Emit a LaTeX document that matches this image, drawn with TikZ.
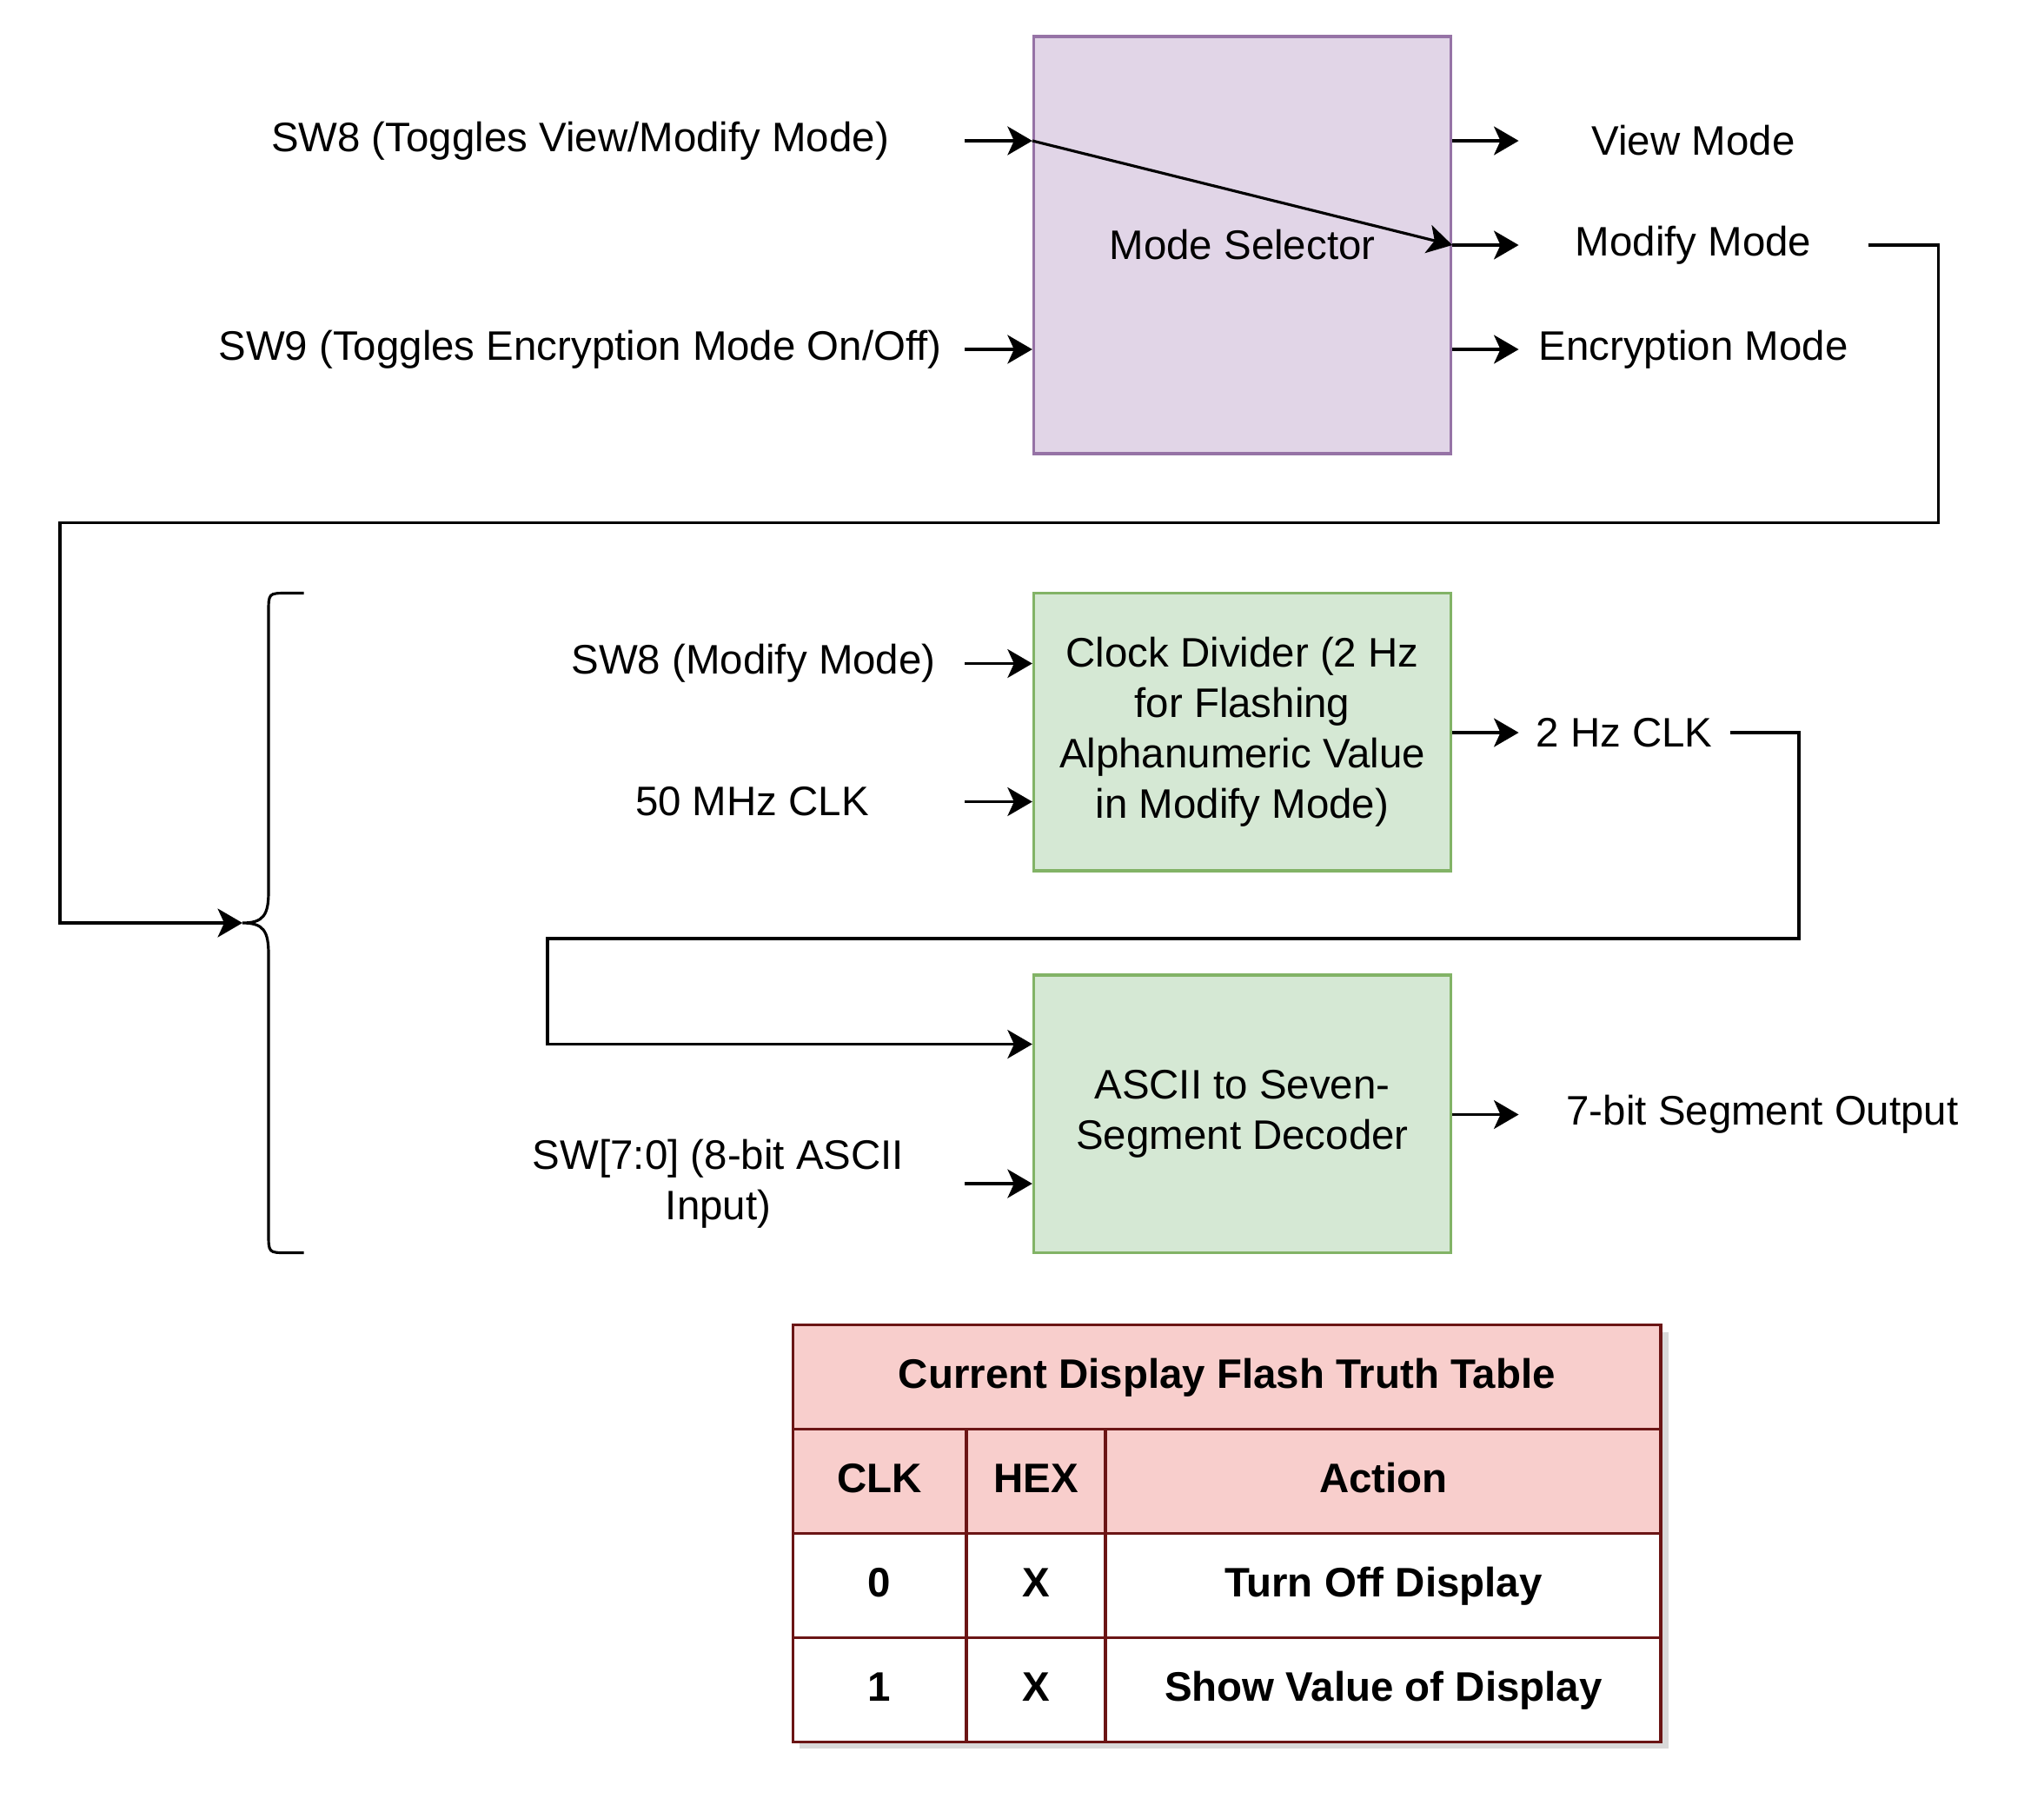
\documentclass[tikz,border=0pt]{standalone}
\usepackage{fontspec}
\setmainfont{Liberation Sans}
\usepackage{xcolor}
\usetikzlibrary{arrows.meta, positioning}

\definecolor{modefill}{HTML}{E1D5E7}
\definecolor{modeline}{HTML}{9673A6}
\definecolor{blockfill}{HTML}{D5E8D4}
\definecolor{blockline}{HTML}{82B366}
\definecolor{tblfill}{HTML}{F8CECC}
\definecolor{tblline}{HTML}{6B1515}

\tikzset{
  block/.style={rectangle, draw=blockline, fill=blockfill, line width=1.3pt, minimum width=6.4cm, minimum height=4.26cm, align=center},
  sig/.style={rectangle, inner sep=0pt, align=center},
  cell/.style={rectangle, draw=tblline, line width=1.4pt, anchor=north west, inner sep=0pt, minimum height=1.6cm, text height=0.46cm, text depth=0.12cm, font=\fontsize{18}{21.9}\selectfont\bfseries},
  >={Stealth[length=0.38cm, width=0.44cm, inset=0.1cm]},
}

\begin{document}
\begin{tikzpicture}[x=0.02cm, y=-0.02cm, line width=1.2pt, font=\fontsize{18}{21.9}\selectfont]
\useasboundingbox (0,0) rectangle (1568,1384);

% mode selector
\node (modesel) [block, draw=modeline, fill=modefill, minimum height=6.4cm] at (953,188) {Mode Selector};
\node (sw8tog) [sig, anchor=east, minimum width=11.76cm] at (740,108) {SW8 (Toggles View/Modify Mode)};
\node (sw9tog) [sig, anchor=east, minimum width=11.76cm] at (740,268) {SW9 (Toggles Encryption Mode On/Off)};
\node (viewmode) [sig, anchor=west, minimum width=5.32cm] at (1165,108) {View Mode};
\node (modifymode) [sig, anchor=west, minimum width=5.32cm] at (1165,188) {Modify Mode};
\node (encmode) [sig, anchor=west, minimum width=5.32cm] at (1165,268) {Encryption Mode};
\draw [->] (sw8tog.east) -- (modesel.west |- sw8tog.east);
\draw [->] (sw9tog.east) -- (modesel.west |- sw9tog.east);
\draw [->] (modesel.west |- sw8tog.east) -- (modesel.east |- modifymode.west);
\draw [->] (modesel.east |- viewmode.west) -- (viewmode.west);
\draw [->] (modesel.east |- modifymode.west) -- (modifymode.west);
\draw [->] (modesel.east |- encmode.west) -- (encmode.west);

% brace
\coordinate (bracetip) at (186,708);
\draw (233,455) -- (220,455) .. controls (206,455) .. (206,470) -- (206,684)
  .. controls (206,702) and (202,708) .. (bracetip)
  .. controls (202,708) and (206,714) .. (206,732) -- (206,946)
  .. controls (206,961) .. (220,961) -- (233,961);
\coordinate (loopR) at (1487,401);
\coordinate (loopL) at (46,401);
\draw [->] (modifymode.east) -| (loopR) -- (loopL) |- (bracetip);

% clock divider
\node (clkdiv) [block] at (953,561.5) {Clock Divider (2 Hz\\for Flashing\\Alphanumeric Value\\in Modify Mode)};
\node (sw8mod) [sig, anchor=east, minimum width=6.44cm] at (740,509) {SW8 (Modify Mode)};
\node (clk50) [sig, anchor=east, minimum width=6.48cm] at (740,615) {50 MHz CLK};
\node (clk2) [sig, anchor=west, minimum width=3.2cm] at (1165,562) {2 Hz CLK};
\draw [->] (sw8mod.east) -- (clkdiv.west |- sw8mod.east);
\draw [->] (clk50.east) -- (clkdiv.west |- clk50.east);
\draw [->] (clkdiv.east |- clk2.west) -- (clk2.west);

% decoder
\node (decoder) [block] at (953,854.5) {ASCII to Seven-\\Segment Decoder};
\node (swascii) [sig, anchor=east, minimum width=7.52cm] at (740,908) {SW[7:0] (8-bit ASCII\\Input)};
\node (segout) [sig, anchor=west, minimum width=7.44cm] at (1165,855) {7-bit Segment Output};
\coordinate (clkR) at (1380,720);
\coordinate (clkL) at (420,720);
\draw [->] (clk2.east) -| (clkR) -- (clkL) |- ([yshift=1.07cm]decoder.west);
\draw [->] (swascii.east) -- (decoder.west |- swascii.east);
\draw [->] (decoder.east |- segout.west) -- (segout.west);

% truth table
\fill [black, opacity=0.15] (613,1022) rectangle (1280,1341);
\node (tbltitle) [cell, fill=tblfill, minimum width=13.32cm] at (607,1015) {Current Display Flash Truth Table};
\node (hclk) [cell, fill=tblfill, minimum width=2.66cm] at (607,1095) {CLK};
\node (hhex) [cell, fill=tblfill, minimum width=2.14cm] at (740,1095) {HEX};
\node (hact) [cell, fill=tblfill, minimum width=8.52cm] at (847,1095) {Action};
\foreach \r/\yy/\c/\h/\a in {1/1175/0/X/Turn Off Display, 2/1255/1/X/Show Value of Display} {
  \node (clk\r) [cell, fill=white, minimum width=2.66cm] at (607,\yy) {\c};
  \node (hex\r) [cell, fill=white, minimum width=2.14cm] at (740,\yy) {\h};
  \node (act\r) [cell, fill=white, minimum width=8.52cm] at (847,\yy) {\a};
}
\end{tikzpicture}
\end{document}
